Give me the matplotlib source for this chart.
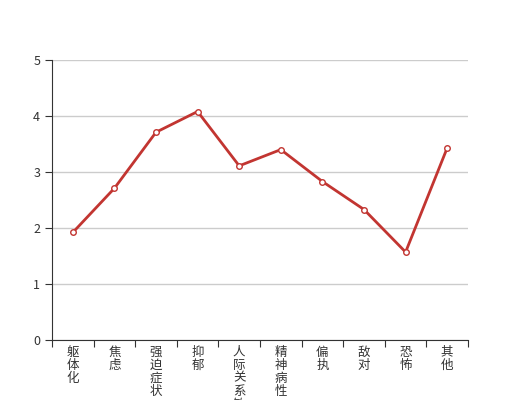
import matplotlib.pyplot as plt

plt.rcParams['font.family'] = ['Noto Sans CJK SC', 'DejaVu Sans']

categories = ['躯体化', '焦虑', '强迫症状', '抑郁', '人际关系敏感', '精神病性', '偏执', '敌对', '恐怖', '其他']
scores = [1.92, 2.71, 3.71, 4.08, 3.11, 3.40, 2.83, 2.33, 1.57, 3.43]
yticks = [0, 1, 2, 3, 4, 5]

fig = plt.figure(figsize=(5.2, 4), dpi=100)
ax = fig.add_axes([0.1, 0.15, 0.8, 0.7])

x = list(range(len(categories)))
ax.plot(x, scores, color='#c23531', linewidth=2, marker='o', markersize=4,
        markerfacecolor='white', markeredgecolor='#c23531', markeredgewidth=1, zorder=3)

ax.set_xlim(-0.5, len(categories) - 0.5)
ax.set_ylim(0, 5)
ax.set_yticks(yticks)
ax.yaxis.grid(True, color='#cccccc', linewidth=1)
ax.set_axisbelow(True)

# category boundaries get the ticks, labels sit at centres
ax.set_xticks([i - 0.5 for i in range(len(categories) + 1)])
ax.set_xticklabels([])
ax.set_xticks(x, minor=True)
ax.set_xticklabels(['\n'.join(c) for c in categories], minor=True,
                   linespacing=1.0, fontsize=9, color='#333333')
ax.tick_params(axis='x', which='minor', length=0, pad=4)
ax.tick_params(axis='x', which='major', length=5, color='#333333')
ax.tick_params(axis='y', length=5, color='#333333', labelsize=9, labelcolor='#333333')

for s in ['top', 'right']:
    ax.spines[s].set_visible(False)
for s in ['left', 'bottom']:
    ax.spines[s].set_color('#333333')

fig.savefig('out.png', dpi=100)
